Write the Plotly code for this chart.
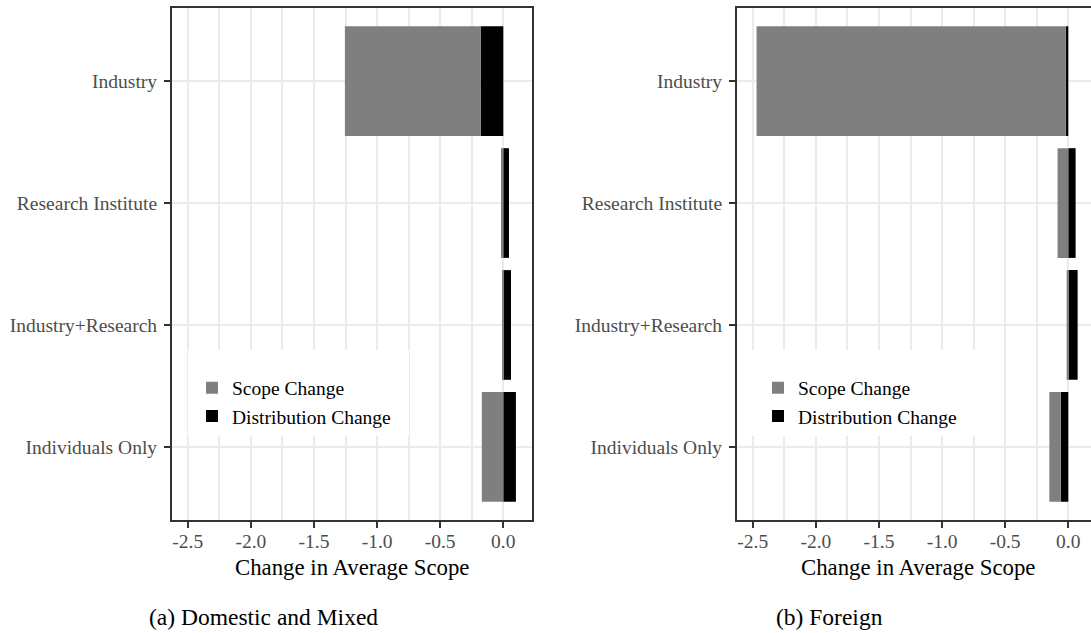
import plotly.graph_objects as go

# ---- data -------------------------------------------------------------
categories = ["Industry", "Research Institute", "Industry+Research", "Individuals Only"]

domestic_scope = [-1.075, -0.018, -0.003, -0.170]
domestic_distribution = [-0.180, 0.045, 0.061, 0.100]

foreign_scope = [-2.450, -0.085, -0.013, -0.090]
foreign_distribution = [-0.020, 0.058, 0.074, -0.060]

x_ticks = [-2.5, -2.0, -1.5, -1.0, -0.5, 0.0]
x_tick_labels = ["-2.5", "-2.0", "-1.5", "-1.0", "-0.5", "0.0"]

series_names = ["Scope Change", "Distribution Change"]
series_colors = ["#7f7f7f", "#000000"]
captions = ["(a) Domestic and Mixed", "(b) Foreign"]
x_title = "Change in Average Scope"

# ---- layout helpers ---------------------------------------------------
W, H = 1091, 633
SERIF = "Liberation Serif"
GRID = "#ebebeb"
INK = "#333333"


def fx(p):
    return p / W


def fy(p):
    return 1 - p / H


# panel frames in page pixels
LEFT_PANEL = (172, 532)
RIGHT_PANEL = (737, 1091)
PANEL_TOP, PANEL_BOTTOM = 8, 520
X_MIN, X_MAX = -2.625, 0.2275
Y_LO, Y_HI = -0.6, len(categories) - 1 + 0.6
px_per_unit = (LEFT_PANEL[1] - LEFT_PANEL[0]) / (X_MAX - X_MIN)
right_xmax = X_MIN + (RIGHT_PANEL[1] - RIGHT_PANEL[0]) / px_per_unit


def to_xval(p, panel):
    return X_MIN + (p - panel[0]) / px_per_unit


def to_yval(p):
    return Y_LO + (p - PANEL_TOP) / (PANEL_BOTTOM - PANEL_TOP) * (Y_HI - Y_LO)


fig = go.Figure()

panels = [
    ("x", "y", "legend", domestic_scope, domestic_distribution),
    ("x2", "y2", "legend2", foreign_scope, foreign_distribution),
]
for xa, ya, leg, scope, dist in panels:
    # distribution first so it sits next to zero when both parts are negative
    fig.add_trace(go.Bar(
        y=categories, x=dist, orientation="h", name=series_names[1],
        marker=dict(color=series_colors[1], line=dict(width=0)),
        width=0.9, xaxis=xa, yaxis=ya, legend=leg, legendrank=2,
    ))
    fig.add_trace(go.Bar(
        y=categories, x=scope, orientation="h", name=series_names[0],
        marker=dict(color=series_colors[0], line=dict(width=0)),
        width=0.9, xaxis=xa, yaxis=ya, legend=leg, legendrank=1,
    ))

xaxis_common = dict(
    tickmode="array", tickvals=x_ticks, ticktext=x_tick_labels,
    tickfont=dict(family=SERIF, size=19.5, color="#4d4d4d"),
    ticks="outside", ticklen=6, tickwidth=2, tickcolor=INK,
    ticklabelstandoff=-3,
    showgrid=True, gridcolor=GRID, gridwidth=2,
    minor=dict(dtick=0.25, tick0=0, showgrid=True, gridcolor=GRID, gridwidth=1.6),
    showline=True, linecolor=INK, linewidth=2, mirror=True,
    zeroline=False, fixedrange=True,
)
yaxis_common = dict(
    type="category", categoryorder="array", categoryarray=categories,
    range=[Y_HI, Y_LO],
    tickfont=dict(family=SERIF, size=19.5, color="#4d4d4d"),
    ticks="outside", ticklen=6, tickwidth=2, tickcolor=INK,
    ticklabelstandoff=3,
    showgrid=True, gridcolor=GRID, gridwidth=2,
    showline=True, linecolor=INK, linewidth=2,
    zeroline=False, fixedrange=True,
    domain=[fy(PANEL_BOTTOM), fy(PANEL_TOP)],
)

fig.update_layout(
    width=W, height=H,
    margin=dict(l=0, r=0, t=0, b=0),
    paper_bgcolor="white", plot_bgcolor="white",
    barmode="relative", bargap=0.1,
    xaxis=dict(xaxis_common, domain=[fx(LEFT_PANEL[0]), fx(LEFT_PANEL[1])],
               range=[X_MIN, X_MAX], anchor="y"),
    xaxis2=dict(xaxis_common, domain=[fx(RIGHT_PANEL[0]), fx(RIGHT_PANEL[1])],
                range=[X_MIN, right_xmax], anchor="y2"),
    yaxis=dict(yaxis_common, mirror=True, anchor="x"),
    yaxis2=dict(yaxis_common, mirror=False, anchor="x2"),
    showlegend=True,
)

legend_style = dict(
    xanchor="left", yanchor="top", bgcolor="rgba(0,0,0,0)",
    font=dict(family=SERIF, size=19.5, color="black"),
    traceorder="normal", tracegroupgap=0, itemclick=False,
)
fig.update_layout(
    legend=dict(legend_style, x=fx(192), y=fy(368.5)),
    legend2=dict(legend_style, x=fx(758), y=fy(368.5)),
)

# white backing boxes behind the legends (drawn over the grid, under the bars)
for (xa, ya), (bx0, bx1), panel in [
    (("x", "y"), (188, 409), LEFT_PANEL),
    (("x2", "y2"), (752, 975), RIGHT_PANEL),
]:
    fig.add_shape(
        type="rect", layer="between", xref=xa, yref=ya,
        x0=to_xval(bx0, panel), x1=to_xval(bx1, panel),
        y0=to_yval(350), y1=to_yval(436),
        fillcolor="white", line=dict(width=0),
    )

# axis titles, centred on each full panel
for cx in [(LEFT_PANEL[0] + LEFT_PANEL[1]) / 2, 917.8]:
    fig.add_annotation(
        text=x_title, xref="paper", yref="paper", x=fx(cx), y=fy(567),
        xanchor="center", yanchor="middle", showarrow=False,
        font=dict(family=SERIF, size=22.8, color="black"),
    )

# sub-figure captions
for text, cx in zip(captions, [263.5, 829.5]):
    fig.add_annotation(
        text=text, xref="paper", yref="paper", x=fx(cx), y=fy(617),
        xanchor="center", yanchor="middle", showarrow=False,
        font=dict(family=SERIF, size=23.5, color="black"),
    )

fig.write_html("out.html")
